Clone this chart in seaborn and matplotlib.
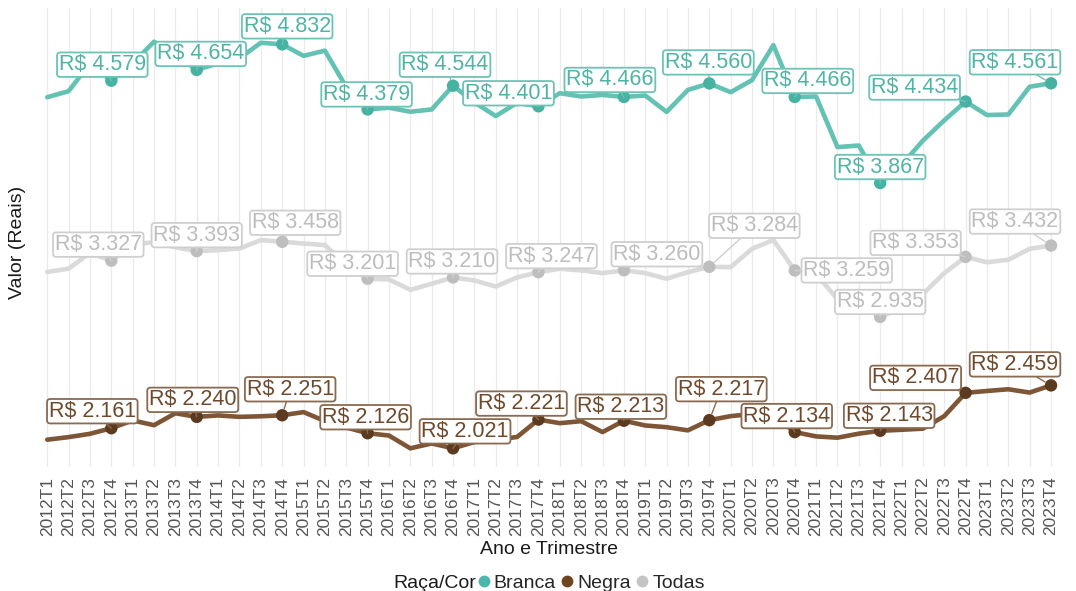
import matplotlib
matplotlib.use("Agg")
import matplotlib.pyplot as plt
from matplotlib.lines import Line2D
import pandas as pd
import seaborn as sns

# dados: rendimento medio por raca/cor, 2012T1 .. 2023T4
anos = list(range(2012, 2024))
trimestres = [f"{a}T{t}" for a in anos for t in range(1, 5)]

branca = [4464, 4506, 4700, 4579, 4700, 4850, 4760, 4654,
          4700, 4735, 4843, 4832, 4752, 4788, 4535, 4379,
          4391, 4363, 4379, 4544, 4428, 4333, 4425, 4401,
          4492, 4469, 4480, 4466, 4476, 4362, 4515, 4560,
          4499, 4583, 4826, 4466, 4469, 4117, 4128, 3867,
          3992, 4162, 4303, 4434, 4340, 4344, 4537, 4561]

negra = [2081, 2099, 2122, 2161, 2215, 2182, 2265, 2240,
         2250, 2240, 2244, 2251, 2273, 2211, 2166, 2126,
         2110, 2021, 2055, 2021, 2065, 2080, 2100, 2221,
         2196, 2210, 2134, 2213, 2180, 2168, 2146, 2217,
         2245, 2260, 2255, 2134, 2104, 2095, 2123, 2143,
         2150, 2158, 2245, 2407, 2420, 2432, 2409, 2459]

todas = [3248, 3271, 3380, 3327, 3440, 3455, 3420, 3393,
         3400, 3411, 3470, 3458, 3446, 3435, 3300, 3201,
         3196, 3124, 3166, 3210, 3189, 3147, 3210, 3247,
         3270, 3259, 3240, 3260, 3240, 3201, 3247, 3284,
         3282, 3409, 3471, 3259, 3235, 3058, 3065, 2935,
         3000, 3095, 3240, 3353, 3316, 3333, 3409, 3432]

grupos = ["Branca", "Negra", "Todas"]

# estilos
cor_linha = {"Branca": "#63C2B3", "Negra": "#7E5636", "Todas": "#DADADA"}
cor_ponto = {"Branca": "#47B2A2", "Negra": "#5B3A1F", "Todas": "#BEBEBE"}
cor_texto = {"Branca": "#4FB4A5", "Negra": "#6E4A2D", "Todas": "#BDBDBD"}
cor_borda = {"Branca": "#6CC3B6", "Negra": "#8A6A50", "Todas": "#CFCFCF"}
cor_legenda = {"Branca": "#4DB6AC", "Negra": "#6F4421", "Todas": "#C4C4C4"}

# deslocamento dos rotulos (pixels) em relacao ao ponto de cada T4
desloc = {
    "Branca": [(-9, 16), (4, 16), (5, 18), (-1, 15), (-8, 21), (-30, 13),
               (-14, 17), (-1, 21), (13, 16), (0, 16), (-51, 14), (-36, 21)],
    "Todas": [(-13, 16), (0, 16), (13, 19), (-15, 15), (-1, 16), (13, 16),
              (33, 16), (45, 41), (52, 0), (0, 15), (-50, 14), (-36, 24)],
    "Negra": [(-19, 17), (-4, 17), (8, 26), (-2, 16), (12, 17), (-17, 16),
              (-3, 14), (12, 31), (-8, 16), (9, 15), (-50, 15), (-36, 21)],
}

df = pd.DataFrame({
    "trimestre": trimestres * 3,
    "idx": list(range(len(trimestres))) * 3,
    "valor": branca + negra + todas,
    "raca": [g for g in grupos for _ in trimestres],
})
pontos = df[df["idx"] % 4 == 3]

sns.set_theme(style="white")
plt.rcParams["font.family"] = ["Liberation Sans", "DejaVu Sans"]

fig = plt.figure(figsize=(10.76, 5.91), dpi=100)
ax = fig.add_axes([0.032, 0.2098, 0.9567, 0.7767])

sns.lineplot(data=df, x="idx", y="valor", hue="raca", palette=cor_linha,
             linewidth=3.3, legend=False, sort=False, ax=ax,
             solid_joinstyle="round", solid_capstyle="round", zorder=2)
sns.scatterplot(data=pontos, x="idx", y="valor", hue="raca", palette=cor_ponto,
                s=80, edgecolor="none", legend=False, ax=ax, zorder=3)

for g in grupos:
    sub = pontos[pontos["raca"] == g]
    for (i, v), (dx, dy) in zip(zip(sub["idx"], sub["valor"]), desloc[g]):
        txt = "R$ " + f"{v:,}".replace(",", ".")
        ax.annotate(txt, xy=(i, v), xytext=(dx, dy), textcoords="offset pixels",
                    ha="center", va="center", fontsize=15.5, color=cor_texto[g],
                    zorder=6,
                    bbox=dict(boxstyle="round,pad=0.08,rounding_size=0.15",
                              fc="white", ec=cor_borda[g], lw=1.3),
                    arrowprops=dict(arrowstyle="-", color=cor_borda[g], lw=1,
                                    shrinkA=0, shrinkB=5))

ax.set_xlim(-0.6, 47.6)
ax.set_ylim(1891, 5085)
ax.set_xticks(range(len(trimestres)))
ax.set_xticklabels(trimestres)
ax.set_yticks([])
ax.tick_params(axis="x", labelrotation=90, labelsize=12.5, labelcolor="#555555",
               length=0, pad=7)
ax.grid(axis="x", color="#EBEBEB", linewidth=1)
ax.grid(axis="y", visible=False)
for s in ax.spines.values():
    s.set_visible(False)
ax.set_xlabel("")
ax.set_ylabel("")

fig.text(549 / 1076, 1 - 549 / 591, "Ano e Trimestre", ha="center", va="center",
         fontsize=14, color="#1A1A1A")
fig.text(18 / 1076, 1 - 242 / 591, "Valor (Reais)", ha="center", va="center",
         rotation=90, fontsize=14, color="#1A1A1A")

# legenda na base
fig.text(393 / 1076, 1 - 583 / 591, "Raça/Cor", ha="left", va="center",
         fontsize=14, color="#1A1A1A")
handles = [Line2D([], [], marker="o", linestyle="none", markersize=8.5,
                  markerfacecolor=cor_legenda[g], markeredgecolor="none")
           for g in grupos]
fig.legend(handles, grupos, loc="center left",
           bbox_to_anchor=(478 / 1076, 1 - 583 / 591), ncol=3, frameon=False,
           fontsize=14, handlelength=0.6, handletextpad=0.2, columnspacing=0.3,
           borderpad=0, borderaxespad=0)

fig.savefig("out.png", dpi=100)
